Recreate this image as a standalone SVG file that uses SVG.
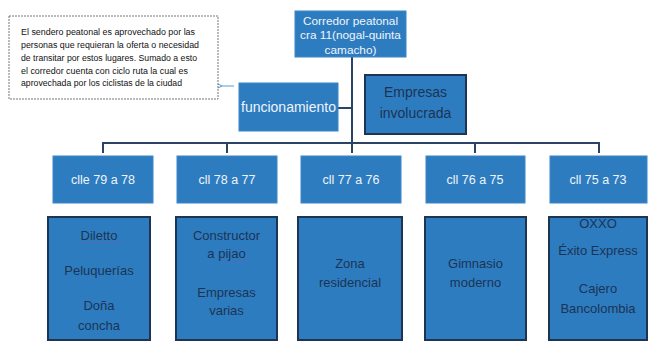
<svg xmlns="http://www.w3.org/2000/svg" width="648" height="343" viewBox="0 0 648 343">
<style>
.box{fill:#2e7cc0;stroke:#3a86c8;stroke-width:1}
.dk{fill:#2e7cc0;stroke:#1d3552;stroke-width:2}
.lt{font-family:"Liberation Sans",Arial,sans-serif;font-size:12.5px;fill:#eef4fb;text-anchor:middle}
.rt{font-size:11.8px}
.dt{font-family:"Liberation Sans",Arial,sans-serif;font-size:13px;fill:#1b3454;text-anchor:middle}
.big{font-size:14px}
.note{font-family:"Liberation Sans",Arial,sans-serif;font-size:8.5px;fill:#111}
.con{stroke:#2b4466;stroke-width:2;fill:none}
.sq{stroke:#7a5ab0;stroke-width:1;stroke-dasharray:1 1}
</style>
<defs>
<marker id="ah" markerWidth="8" markerHeight="8" refX="1" refY="4" orient="auto" markerUnits="userSpaceOnUse">
<path d="M7,1 L1,4 L7,7" fill="none" stroke="#5a9ad6" stroke-width="1"/>
</marker>
</defs>
<rect width="648" height="343" fill="#ffffff"/>
<g id="connectors">
<line class="con" x1="352" y1="57" x2="352" y2="153"/>
<line class="con" x1="338" y1="108" x2="352" y2="108"/>
<polyline class="con" points="103,153 103,143 599,143 599,153"/>
<line class="con" x1="227" y1="143" x2="227" y2="153"/>
<line class="con" x1="475" y1="143" x2="475" y2="153"/>
<line x1="234" y1="86" x2="222" y2="86" stroke="#5a9ad6" stroke-width="1" marker-end="url(#ah)"/>
</g>
<g id="note">
<rect x="9" y="16" width="209" height="83" fill="#fff" stroke="#777" stroke-width="1" stroke-dasharray="2 1"/>
<text class="note" x="21" y="35" textLength="174" lengthAdjust="spacingAndGlyphs">El sendero peatonal es aprovechado por las</text>
<text class="note" x="21" y="48" textLength="178" lengthAdjust="spacingAndGlyphs">personas que requieran la oferta o necesidad</text>
<text class="note" x="21" y="61" textLength="176" lengthAdjust="spacingAndGlyphs">de transitar por estos lugares. Sumado a esto</text>
<text class="note" x="21" y="74" textLength="167" lengthAdjust="spacingAndGlyphs">el corredor cuenta con ciclo ruta la cual es</text>
<text class="note" x="21" y="86" textLength="161" lengthAdjust="spacingAndGlyphs">aprovechada por los ciclistas de la ciudad</text>
</g>
<g id="root">
<rect class="box" x="295" y="11" width="111" height="46"/>
<text class="lt rt" x="350.5" y="25">Corredor peatonal</text>
<text class="lt rt" x="350.5" y="39">cra 11(nogal-quinta</text>
<text class="lt rt" x="350.5" y="54">camacho)</text>
</g>
<g id="funcionamiento">
<rect class="box" x="239" y="83" width="99" height="48"/>
<text class="lt big" x="288.5" y="112">funcionamiento</text>
</g>
<g id="empresas">
<rect class="dk" x="365" y="75" width="101" height="59"/>
<text class="dt big" x="415.5" y="97">Empresas</text>
<text class="dt big" x="415.5" y="118">involucrada</text>
</g>
<g id="cl1">
<rect class="box" x="53" y="156" width="100" height="47"/>
<text class="lt" x="103" y="184">clle 79 a 78</text>
</g>
<g id="cl2">
<rect class="box" x="177" y="156" width="100" height="47"/>
<text class="lt" x="227" y="184">cll 78 a 77</text>
</g>
<g id="cl3">
<rect class="box" x="301" y="156" width="100" height="47"/>
<text class="lt" x="351" y="184">cll 77 a 76</text>
</g>
<g id="cl4">
<rect class="box" x="426" y="156" width="99" height="47"/>
<text class="lt" x="475" y="184">cll 76 a 75</text>
</g>
<g id="cl5">
<rect class="box" x="550" y="156" width="97" height="47"/>
<text class="lt" x="598" y="184">cll 75 a 73</text>
</g>
<g id="b1">
<rect class="dk" x="48" y="217" width="102" height="123"/>
<text class="dt" x="99" y="240">Diletto</text>
<line class="sq" x1="78" y1="243" x2="121" y2="243"/>
<text class="dt" x="99" y="275">Peluquerías</text>
<text class="dt" x="99" y="310">Doña</text>
<text class="dt" x="99" y="330">concha</text>
</g>
<g id="b2">
<rect class="dk" x="176" y="217" width="101" height="123"/>
<text class="dt" x="226.5" y="240">Constructor</text>
<text class="dt" x="226.5" y="258">a pijao</text>
<line class="sq" x1="221" y1="262" x2="250" y2="262"/>
<text class="dt" x="226.5" y="297">Empresas</text>
<text class="dt" x="226.5" y="315">varias</text>
</g>
<g id="b3">
<rect class="dk" x="298" y="217" width="104" height="123"/>
<text class="dt" x="350" y="268">Zona</text>
<text class="dt" x="350" y="287">residencial</text>
</g>
<g id="b4">
<rect class="dk" x="425" y="217" width="101" height="123"/>
<text class="dt" x="475.5" y="268">Gimnasio</text>
<text class="dt" x="475.5" y="287">moderno</text>
</g>
<g id="b5">
<rect class="dk" x="549" y="217" width="98" height="123"/>
<text class="dt" x="598" y="228">OXXO</text>
<text class="dt" x="598" y="255">Éxito Express</text>
<text class="dt" x="598" y="293">Cajero</text>
<text class="dt" x="598" y="313">Bancolombia</text>
</g>
</svg>
